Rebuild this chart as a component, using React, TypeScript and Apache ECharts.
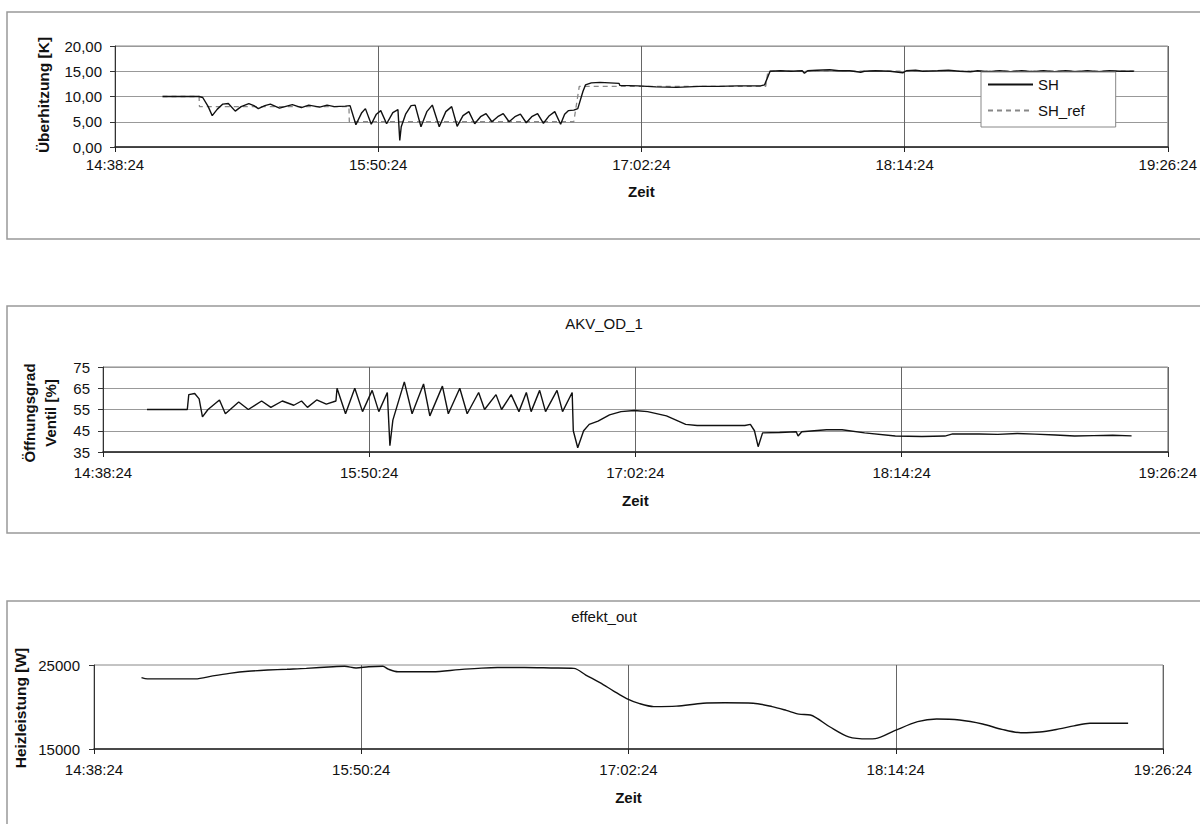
import React, { useEffect, useRef } from "react";
import * as echarts from "echarts";

// time axis: minutes after 14:38:24
const TIME_LABELS = ["14:38:24", "15:50:24", "17:02:24", "18:14:24", "19:26:24"];
const TIME_STEP = 72;
const TIME_MAX = 288;

const SH_TICKS = ["0,00", "5,00", "10,00", "15,00", "20,00"];
const AKV_TICKS = ["35", "45", "55", "65", "75"];
const EFF_TICKS = ["15000", "25000"];

// Panel 1: superheat SH [K]
const SH: [number, number][] = [
  [13, 10], [23, 10], [24, 9.8], [25.5, 8], [26.6, 6.2], [28, 7.5], [29.5, 8.5], [31, 8.6], [32.9, 7.1],
  [34.5, 8], [36.6, 8.6], [38, 8.2], [39.2, 7.6], [41, 8.2], [42.5, 8.5], [45, 7.7], [47, 8.1], [48.5, 8.4],
  [51, 7.8], [53, 8.3], [54.5, 8.1], [56, 7.9], [58, 8.3], [60, 8.0], [63, 8.1], [64.3, 8.2],
  [65.9, 4.4], [67.5, 6.8], [68.5, 7.6], [70.1, 4.5], [71.5, 6.5], [72.7, 7.2], [74.3, 4.6], [76, 6.8],
  [77.4, 7.4], [77.9, 1.3], [78.3, 4], [79.5, 6.5], [81, 8.2], [82.1, 8.3], [83.7, 4.0], [85.3, 7],
  [86.8, 8.3], [88.7, 4.0], [90.5, 7], [92.1, 8], [93.6, 4.1], [95.2, 6.2], [96.8, 7], [98.4, 4.6],
  [100, 6], [101.5, 6.6], [103.1, 5.0], [104.7, 6], [106.2, 6.6], [107.8, 5.0], [109.4, 6], [110.9, 6.5],
  [112.5, 4.8], [114, 6], [115.6, 6.6], [117.2, 4.7], [118.8, 6.2], [120.3, 7], [121.9, 4.5], [123, 6.5],
  [124, 7.2], [125.5, 7.3], [126.6, 7.6], [128, 11], [128.7, 12.3], [130.3, 12.7], [132.7, 12.8],
  [137.9, 12.6], [138.1, 12.2], [143.1, 12.1], [148, 11.9], [153.6, 11.8], [159.9, 12], [165, 12],
  [170.3, 12.1], [176.6, 12.1], [177.7, 12.3], [179.2, 15], [182, 15.1], [185, 15], [188, 15.1],
  [188.6, 14.6], [189.5, 15.1], [192, 15.2], [195.5, 15.3], [198, 15.1], [201, 15.1], [204, 14.8],
  [205, 15], [208, 15.1], [212, 15], [215.5, 14.7], [216.5, 15.1], [219, 15.2], [221, 15], [225, 15.1],
  [228, 15.2], [231, 15], [234, 14.9], [236, 15.1], [239, 14.9], [242, 15.1], [245, 14.9], [248, 15.1],
  [251, 14.9], [254, 15.1], [257, 14.9], [260, 15.1], [263, 14.9], [266, 15.1], [269, 14.9], [272, 15.1],
  [275, 15], [278.7, 15],
];

// Panel 1: reference SH_ref [K]
const SH_REF: [number, number][] = [
  [13, 10], [23, 10], [23.1, 8], [64, 8], [64.1, 5], [125.5, 5], [127, 12], [178, 12], [178.6, 15], [279, 15],
];

// Panel 2: valve opening AKV_OD_1 [%]
const AKV: [number, number][] = [
  [11.9, 55], [22.8, 55], [23.2, 62], [24.8, 62.5], [26, 60], [26.9, 51.5], [28.4, 55], [31.5, 59.5],
  [33.1, 53], [36.7, 58.5], [39.3, 55], [42.9, 59], [45.4, 56], [48.5, 59], [51.6, 57], [53.7, 59],
  [55.3, 56], [57.8, 59.5], [60.4, 57.5], [63.0, 59], [63.3, 65], [65.6, 53], [68.1, 65], [70.2, 54],
  [72.8, 64], [74.6, 54], [76.9, 63], [77.6, 38], [78.4, 50], [81.5, 68], [83.6, 53], [86.7, 67],
  [88.4, 52], [91.8, 66], [93.4, 53], [96.5, 65], [98.5, 53], [101.6, 63], [103.2, 55], [106.3, 62],
  [107.8, 55], [110.4, 62], [112.5, 54], [114.5, 63], [115.8, 54], [118.1, 64], [119.7, 54], [122.8, 64],
  [124.3, 54], [126.9, 63], [127.2, 45], [128.4, 37], [130, 45], [131.5, 48], [133.9, 49.5],
  [137, 52.5], [140.1, 54], [143.7, 54.5], [147.3, 54], [152.4, 52], [157.6, 48], [160.7, 47.5],
  [173.6, 47.5], [175.1, 48], [176.2, 45], [177.2, 37.5], [178.4, 44], [183, 44.2], [187.5, 44.5],
  [188, 42.5], [189, 44.5], [195.7, 45.5], [199.9, 45.5], [206, 44], [214.3, 42.5], [221.5, 42.3],
  [227.7, 42.5], [229.8, 43.5], [237, 43.5], [242, 43.3], [247.3, 43.7], [252, 43.4], [257.6, 43],
  [262.8, 42.5], [267.9, 42.7], [273.1, 42.9], [278.2, 42.6],
];

// Panel 3: heating power effekt_out [W]
const EFF: [number, number][] = [
  [12.8, 23500], [14.4, 23350], [27.3, 23350], [32, 23700], [36.5, 24000], [41.5, 24250], [46.8, 24400],
  [52, 24500], [57.2, 24600], [64.4, 24800], [67.5, 24850], [70.6, 24650], [74, 24800], [77.8, 24850],
  [79.3, 24500], [81.9, 24200], [91.2, 24200], [98.4, 24450], [103.5, 24600], [108.7, 24700],
  [116, 24700], [123.1, 24650], [129.3, 24600], [132.5, 23800], [136.3, 22900], [140, 21900],
  [143.5, 21000], [147, 20400], [150.8, 20050], [156.9, 20100], [164.1, 20450], [170, 20500],
  [177.6, 20450], [182.7, 20050], [186.5, 19600], [189.9, 19150], [193, 19050], [198.2, 17650],
  [203.3, 16450], [208.5, 16200], [210.5, 16230], [215.7, 17180], [221.9, 18250], [227, 18570],
  [233.2, 18450], [239.4, 17980], [244.6, 17340], [249.7, 16940], [254.8, 17020], [260, 17390],
  [264, 17750], [268.3, 18060], [278.6, 18060],
];

const FONT = "Liberation Sans, Arial, sans-serif";
const INK = "#111";

function timeAxis(gridIndex: number, nameGap: number, labelMargin: number) {
  return {
    type: "value",
    gridIndex,
    min: 0,
    max: TIME_MAX,
    interval: TIME_STEP,
    name: "Zeit",
    nameLocation: "middle",
    nameGap,
    nameTextStyle: { fontFamily: FONT, fontSize: 15, fontWeight: "bold", color: INK },
    axisLine: { show: true, onZero: false, lineStyle: { color: "#222", width: 1.5 } },
    axisTick: { show: true, length: 5, lineStyle: { color: "#222" } },
    axisLabel: {
      fontFamily: FONT,
      fontSize: 15,
      color: INK,
      margin: labelMargin,
      showMinLabel: true,
      showMaxLabel: true,
      formatter: (v: number) => TIME_LABELS[Math.round(v / TIME_STEP)] ?? "",
    },
    splitLine: { show: true, lineStyle: { color: "#666", width: 1 } },
  };
}

function valueAxis(
  gridIndex: number,
  min: number,
  max: number,
  interval: number,
  ticks: string[],
  showSplit: boolean,
  margin: number
) {
  return {
    type: "value",
    gridIndex,
    min,
    max,
    interval,
    axisLine: { show: true, lineStyle: { color: "#333", width: 1 } },
    axisTick: { show: true, length: 5, lineStyle: { color: "#333" } },
    axisLabel: {
      fontFamily: FONT,
      fontSize: 15,
      color: INK,
      margin,
      formatter: (v: number) => ticks[Math.round((v - min) / interval)] ?? "",
    },
    splitLine: { show: showSplit, lineStyle: { color: "#999", width: 1 } },
  };
}

export default function App() {
  const ref = useRef<HTMLDivElement>(null);
  useEffect(() => {
    if (!ref.current) return;
    const chart = echarts.init(ref.current, undefined, { renderer: "svg" });
    const panelBorder = (y: number) => ({
      type: "rect",
      shape: { x: 7, y, width: 1210, height: 227 },
      style: { fill: "none", stroke: "#999", lineWidth: 1.5 },
      silent: true,
      z: -10,
    });
    const vText = (x: number, y: number, text: string, size: number) => ({
      type: "text",
      x,
      y,
      rotation: Math.PI / 2,
      style: {
        text,
        font: `bold ${size}px ${FONT}`,
        fill: INK,
        align: "center",
        verticalAlign: "middle",
        lineHeight: 21,
      },
    });
    const title = (x: number, y: number, text: string) => ({
      type: "text",
      x,
      y,
      style: { text, font: `15px ${FONT}`, fill: INK, align: "center", verticalAlign: "middle" },
    });
    chart.setOption({
      animation: false,
      backgroundColor: "#fff",
      grid: [
        { left: 115, right: 32, top: 46, height: 101, show: true, borderColor: "#888", borderWidth: 1 },
        { left: 103, right: 28, top: 367, height: 85, show: true, borderColor: "#888", borderWidth: 1 },
        { left: 94, right: 37, top: 665, height: 84, show: true, borderColor: "#888", borderWidth: 1 },
      ],
      xAxis: [timeAxis(0, 37, 10), timeAxis(1, 41, 13), timeAxis(2, 41, 13)],
      yAxis: [
        valueAxis(0, 0, 20, 5, SH_TICKS, true, 13),
        valueAxis(1, 35, 75, 10, AKV_TICKS, true, 13),
        valueAxis(2, 15000, 25000, 10000, EFF_TICKS, false, 14),
      ],
      legend: {
        data: ["SH", "SH_ref"],
        orient: "vertical",
        left: 981,
        top: 72,
        padding: [5, 31, 9, 6],
        itemGap: 11,
        itemWidth: 45,
        itemHeight: 14,
        backgroundColor: "#fff",
        borderColor: "#888",
        borderWidth: 1,
        borderRadius: 0,
        itemStyle: { opacity: 0 },
        textStyle: { fontFamily: FONT, fontSize: 15, color: INK },
      },
      graphic: [
        panelBorder(12),
        panelBorder(306),
        panelBorder(601),
        vText(43, 95, "Überhitzung [K]", 15.5),
        vText(40, 413, "Öffnungsgrad\nVentil [%]", 15),
        vText(20, 708, "Heizleistung [W]", 15.5),
        title(604, 323, "AKV_OD_1"),
        title(604, 616, "effekt_out"),
      ],
      series: [
        {
          name: "SH_ref",
          type: "line",
          xAxisIndex: 0,
          yAxisIndex: 0,
          data: SH_REF,
          symbol: "none",
          lineStyle: { color: "#888", width: 1.3, type: [5, 4] },
          itemStyle: { color: "#888" },
        },
        {
          name: "SH",
          type: "line",
          xAxisIndex: 0,
          yAxisIndex: 0,
          data: SH,
          symbol: "none",
          lineStyle: { color: INK, width: 1.4 },
          itemStyle: { color: INK },
        },
        {
          name: "AKV_OD_1",
          type: "line",
          xAxisIndex: 1,
          yAxisIndex: 1,
          data: AKV,
          symbol: "none",
          lineStyle: { color: INK, width: 1.4 },
          itemStyle: { color: INK },
        },
        {
          name: "effekt_out",
          type: "line",
          xAxisIndex: 2,
          yAxisIndex: 2,
          data: EFF,
          symbol: "none",
          smooth: 0.3,
          lineStyle: { color: INK, width: 1.4 },
          itemStyle: { color: INK },
        },
      ],
    });
    return () => chart.dispose();
  }, []);
  return (
    <div
      ref={ref}
      style={{ position: "absolute", left: 0, top: 0, width: 1200, height: 824, background: "#fff" }}
    />
  );
}
